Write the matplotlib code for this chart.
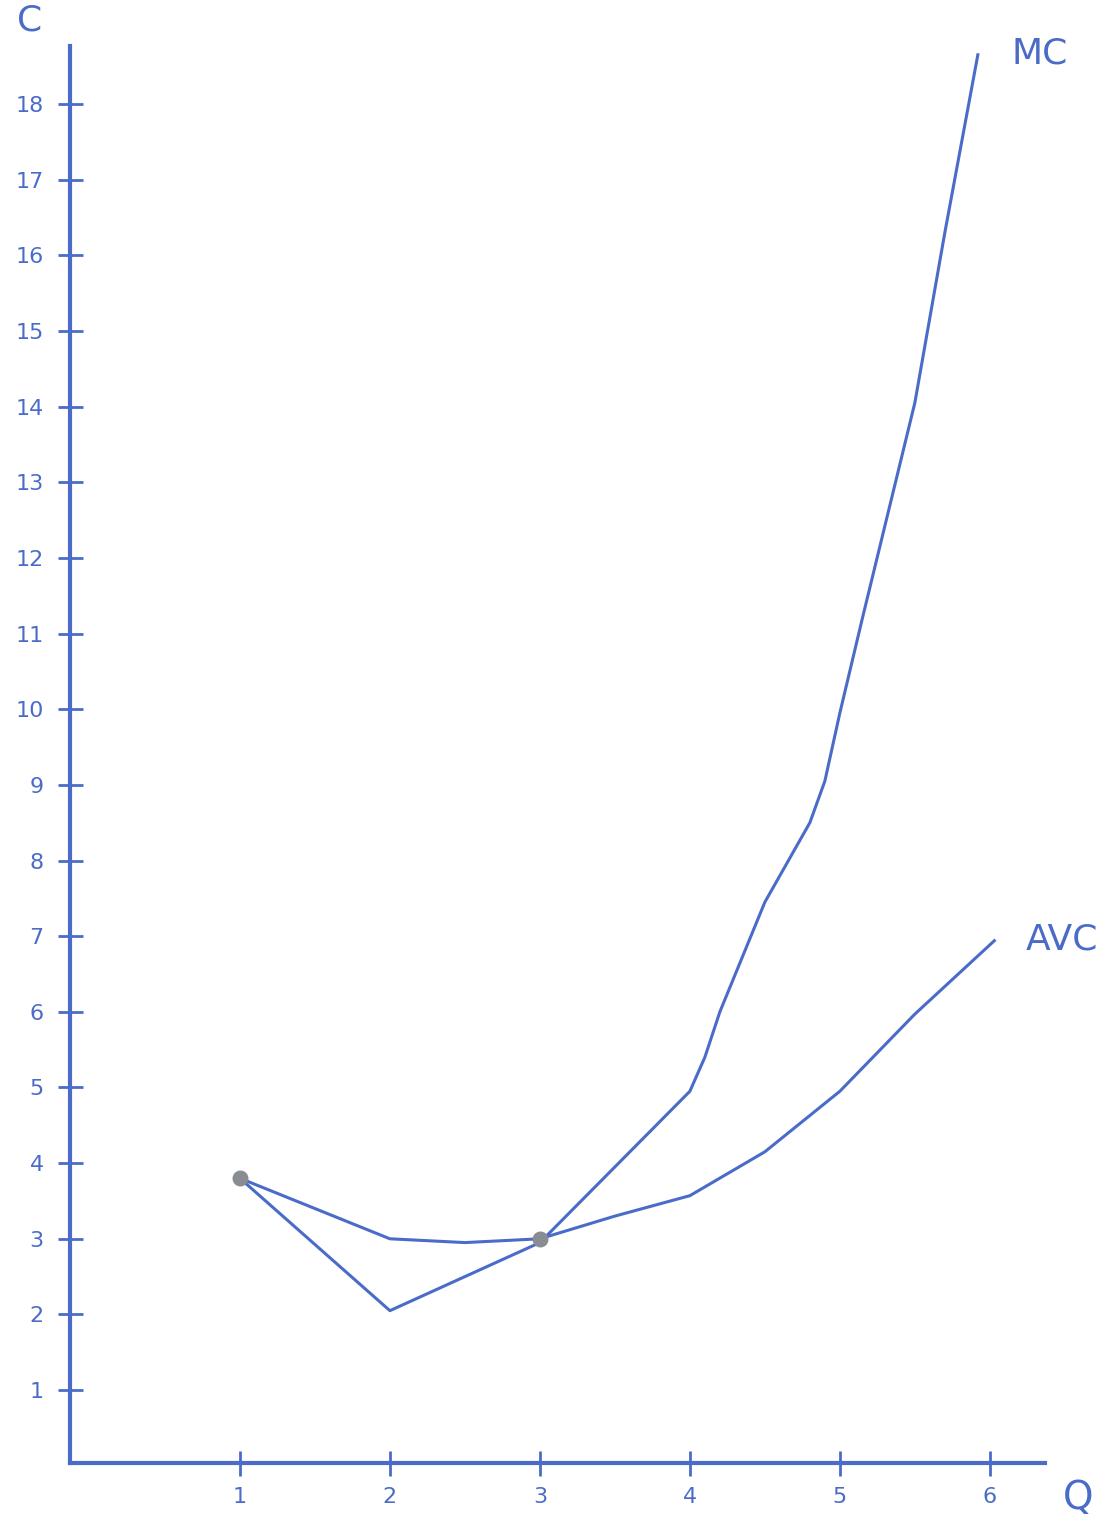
import matplotlib
matplotlib.use("Agg")
import matplotlib.pyplot as plt

# Data
q_ticks = [1, 2, 3, 4, 5, 6]
c_ticks = list(range(1, 19))

mc_q = [1, 2, 3, 3.5, 4, 4.1, 4.2, 4.5, 4.8, 4.9, 5.0, 5.15, 5.5, 5.7, 5.92]
mc_c = [3.8, 2.05, 2.95, 3.95, 4.95, 5.4, 6.0, 7.45, 8.5, 9.05, 9.95, 11.2, 14.05, 16.3, 18.65]

avc_q = [1, 2, 2.5, 3, 3.5, 4, 4.5, 5, 5.5, 6.03]
avc_c = [3.8, 3.0, 2.95, 3.0, 3.3, 3.57, 4.15, 4.95, 5.97, 6.94]

dot_q = [1, 3]
dot_c = [3.8, 3.0]

BLUE = "#4a6cc8"
GREY = "#8a8c94"

fig = plt.figure(figsize=(11.18, 15.24), dpi=100)
ax = fig.add_axes([0.0626, 0.040, 0.872, 0.930])
ax.set_xlim(-0.133, 6.367)
ax.set_ylim(0.036, 18.77)

ax.plot(mc_q, mc_c, color=BLUE, lw=2.2)
ax.plot(avc_q, avc_c, color=BLUE, lw=2.2)
ax.scatter(dot_q, dot_c, s=110, color=GREY, zorder=5)

for s in ["top", "right"]:
    ax.spines[s].set_visible(False)
for s in ["left", "bottom"]:
    ax.spines[s].set_color(BLUE)
    ax.spines[s].set_linewidth(3)

ax.set_xticks(q_ticks)
ax.set_xticklabels([str(v) for v in q_ticks])
ax.set_yticks(c_ticks)
ax.set_yticklabels([str(v) for v in c_ticks])
ax.tick_params(axis="both", direction="inout", length=18, width=2, color=BLUE,
               labelcolor=BLUE, labelsize=16)
ax.tick_params(axis="x", pad=8)
ax.tick_params(axis="y", pad=10)

ax.text(-0.4, 19.1, "C", color=BLUE, fontsize=26, ha="center", va="center", clip_on=False)
ax.text(6.59, -0.42, "Q", color=BLUE, fontsize=28, ha="center", va="center", clip_on=False)
ax.text(6.33, 18.67, "MC", color=BLUE, fontsize=26, ha="center", va="center", clip_on=False)
ax.text(6.48, 6.96, "AVC", color=BLUE, fontsize=26, ha="center", va="center", clip_on=False)

fig.savefig("out.png", dpi=100, facecolor="white")
